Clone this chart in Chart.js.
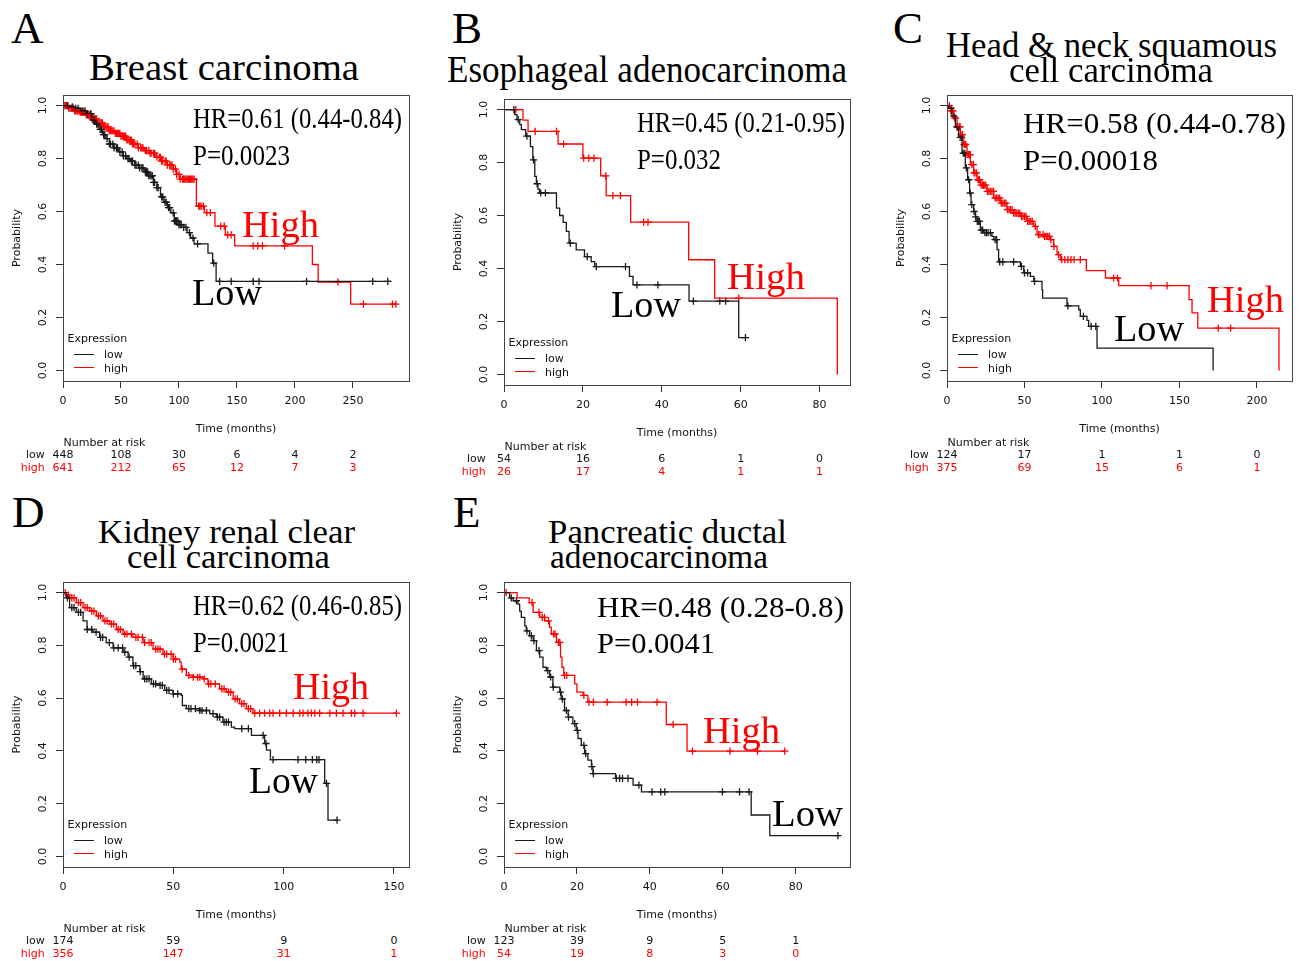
<!DOCTYPE html>
<html><head><meta charset="utf-8">
<script src="https://cdn.jsdelivr.net/npm/chart.js@4.4.1/dist/chart.umd.min.js"></script>
<style>
html,body{margin:0;padding:0;background:#fff;}
body{width:1302px;height:961px;position:relative;overflow:hidden;}
canvas{position:absolute;}
.t{position:absolute;white-space:nowrap;line-height:1;transform-origin:0 0;}
.ln{position:absolute;height:1px;}
</style></head><body>
<script>
// ---------- shared ----------
const yTicks=[0,0.2,0.4,0.6,0.8,1.0];
const yTickLabels=['0.0','0.2','0.4','0.6','0.8','1.0'];
const groupLabels=['low','high'];

// ---------- A: Breast carcinoma ----------
const aTitle=['Breast carcinoma'];
const aHR='HR=0.61 (0.44-0.84)', aP='P=0.0023';
const aTicks=[0,50,100,150,200,250];
const aRiskLow=[448,108,30,6,4,2];
const aRiskHigh=[641,212,65,12,7,3];
const aLowT=[0,5,10,15,20,25,28,31,34,37,40,44,48,52,55,58,62,66,70,74,78,81,84,87,90,93,96,100,104,107,110,113,125,129,132,283];
const aLowS=[1,0.995,0.99,0.98,0.97,0.945,0.93,0.91,0.89,0.875,0.855,0.84,0.825,0.81,0.80,0.79,0.775,0.765,0.75,0.735,0.71,0.69,0.655,0.635,0.615,0.595,0.565,0.55,0.54,0.52,0.50,0.478,0.443,0.405,0.336,0.336];
const aLowC=[4,8,11,13,17,19,21,24,26,27,29,30,32,33,35,36,38,40,41,43,44,46,47,49,51,52,54,56,57,59,60,62,63,65,66,68,69,71,72,73,74,75,76,77,78,79,81,82,85,86,88,89,91,92,95,96,97,98,99,100,101,102,104,106,109,112,116,130,135,145,164,169,210,267,280];
const aHighT=[0,5,10,15,20,25,30,35,40,45,50,55,60,65,70,75,80,85,90,95,98,101,115,122,131,140,148,215,220,248,288];
const aHighS=[1,0.99,0.98,0.975,0.965,0.95,0.935,0.92,0.905,0.895,0.885,0.87,0.855,0.84,0.83,0.82,0.805,0.79,0.775,0.76,0.74,0.722,0.62,0.596,0.545,0.512,0.47,0.40,0.333,0.25,0.25];
const aHighC=[1,2,3,4,5,6,7,8,9,10,11,12,13,14,15,16,17,18,19,20,21,22,23,24,25,26,27,28,29,30,31,32,33,34,35,36,37,38,39,40,41,42,43,44,45,46,47,48,49,50,51,52,53,54,55,56,57,58,59,60,61,62,64,65,67,68,69,71,72,74,75,76,78,79,81,83,84,85,86,88,89,90,92,93,94,95,97,98,100,101,103,104,105,106,107,108,109,110,111,112,113,117,118,119,121,124,127,136,139,142,145,164,168,172,191,237,259,284,287];

// ---------- B: Esophageal adenocarcinoma ----------
const bTitle=['Esophageal adenocarcinoma'];
const bHR='HR=0.45 (0.21-0.95)', bP='P=0.032';
const bTicks=[0,20,40,60,80];
const bRiskLow=[54,16,6,1,0];
const bRiskHigh=[26,17,4,1,1];
const bLowT=[0,2.7,3.3,4.0,4.4,5.5,6.7,7.3,7.8,8.2,8.6,9.0,13.3,14.1,15.0,15.8,16.5,18.3,20.4,22.1,23.0,31.8,32.7,46.9,59.5,61.2];
const bLowS=[1,0.981,0.962,0.943,0.924,0.90,0.86,0.81,0.748,0.72,0.70,0.685,0.628,0.60,0.574,0.54,0.496,0.47,0.445,0.426,0.407,0.37,0.338,0.277,0.139,0.139];
const bLowC=[2.5,3.6,5.8,7.5,8.4,9.3,10.5,16.8,21.1,23.4,30.8,33.7,39,48,54.7,56.2,61.2];
const bHighT=[0,4.8,6.1,13.7,20,24.5,25.9,32.1,46.8,53.4,84.5];
const bHighS=[1,0.96,0.918,0.87,0.817,0.75,0.675,0.575,0.433,0.288,0];
const bHighC=[3,7.9,13.3,15.1,20.2,21.5,22.8,25.8,27.6,29.5,35.4,36.5,59.5];

// ---------- C: Head & neck squamous cell carcinoma ----------
const cTitle=['Head & neck squamous','cell carcinoma'];
const cHR='HR=0.58 (0.44-0.78)', cP='P=0.00018';
const cTicks=[0,50,100,150,200];
const cRiskLow=[124,17,1,1,0];
const cRiskHigh=[375,69,15,6,1];
const cLowT=[0,1.1,3.2,5.4,7.5,9.7,11.8,13.3,14.6,15.5,17.2,18.3,19.4,21.5,23.7,29,30.1,32.3,33.3,47.3,49.5,53.8,56,61.3,61.7,77.4,85,86,90.3,91.4,96.8,171.7];
const cLowS=[1,0.99,0.96,0.92,0.88,0.82,0.765,0.72,0.67,0.626,0.60,0.58,0.563,0.53,0.52,0.506,0.494,0.456,0.41,0.393,0.368,0.355,0.336,0.305,0.273,0.244,0.229,0.204,0.189,0.166,0.084,0];
const cLowC=[2.5,4.5,6.5,8.5,9.5,10.5,11.5,12.5,14,15,16,17.5,18.5,19.5,20.5,21,22,23,24.5,25.5,26.5,28,31,32,34,36,43,48,50,52,56.5,78,88,93,96];
const cHighT=[0,2.2,4.3,6.5,8.6,10.8,12.9,15.1,17.2,19.4,21.5,25.8,30.1,34.4,38.7,43,47.3,51.6,56,58.1,62.4,66.7,68.8,71,73.1,89.9,102.2,110.8,156.2,158.1,161.8,214.2];
const cHighS=[1,0.98,0.953,0.92,0.89,0.853,0.815,0.777,0.746,0.72,0.70,0.676,0.651,0.632,0.607,0.594,0.582,0.563,0.544,0.513,0.506,0.494,0.468,0.437,0.418,0.377,0.349,0.32,0.267,0.217,0.16,0];
const cHighC=[1.5,2.5,3,4,5,5.5,6.5,7,8,8.5,9,10,11,11.5,12,13,14,14.5,15,16,17,17.5,18,19,20,20.5,21,22,23,23.5,24,25,26,27,28,29,30,31,32,33,34,35,36,37,38,39,40,41,42,43,44,45,46,47,48,49,50,51,52,53,54,55,57,59,60,62,63,64,65,66,67,69,72,74,76,78,80,82,86,107.5,110,131.6,142,175,183];

// ---------- D: Kidney renal clear cell carcinoma ----------
const dTitle=['Kidney renal clear','cell carcinoma'];
const dHR='HR=0.62 (0.46-0.85)', dP='P=0.0021';
const dTicks=[0,50,100,150];
const dRiskLow=[174,59,9,0];
const dRiskHigh=[356,147,31,1];
const dLowT=[0,1.5,3,6,9.1,10.9,13.6,16.6,19.6,22.7,27.2,29.5,31.7,34.8,36.3,40,43.8,46.1,49.9,53.6,54.1,55.9,62,66.5,69.5,72.5,76.3,77.8,85.4,91.4,92.2,94,118.6,120.1,124.2];
const dLowS=[1,0.98,0.943,0.925,0.893,0.86,0.85,0.83,0.81,0.79,0.774,0.755,0.723,0.70,0.673,0.654,0.648,0.629,0.616,0.61,0.572,0.56,0.553,0.541,0.528,0.509,0.49,0.484,0.459,0.428,0.403,0.367,0.277,0.138,0.138];
const dLowC=[2,4,5,7,8,11,13,15,17,18,21,23,25,27,28,30,32,33,35,37,38,39,41,42,44,45,47,48,50,52,57,58,60,62,63,65,68,70,71,73,74,75,81,84,90.7,92,95.2,106.5,110,113,115,116,119.4,124.2];
const dHighT=[0,1.5,3,6,9.1,12.1,15.1,18.1,21.2,24.2,27.2,31.7,36.3,40.8,45.3,49.9,52.9,53.6,55.9,58.9,63.5,65.7,71,74,77.1,80,83.1,86.1,151.1];
const dHighS=[1,0.99,0.98,0.962,0.943,0.93,0.912,0.893,0.88,0.86,0.843,0.83,0.81,0.786,0.767,0.748,0.736,0.71,0.686,0.679,0.673,0.654,0.635,0.623,0.597,0.579,0.56,0.543,0.543];
const dHighC=[1,2.5,4,5,7,8,10,11,13,14,16,17,19,20,22,23,25,26,28,29,31,33,34,36,37,39,40,42,43,44,46,47,49,50,51,54,57,59,61,62,64,66,67,69,72,73,75,76,78,79,81,82,84,85,86.9,89.1,91.4,93.7,95.2,98.2,101.2,104.3,107.3,108.8,111,112.6,114.1,116.3,120.9,123.9,126.9,130.7,132.2,136,151.1];

// ---------- E: Pancreatic ductal adenocarcinoma ----------
const eTitle=['Pancreatic ductal','adenocarcinoma'];
const eHR='HR=0.48 (0.28-0.8)', eP='P=0.0041';
const eTicks=[0,20,40,60,80];
const eRiskLow=[123,39,9,5,1];
const eRiskHigh=[54,19,8,3,0];
const eLowT=[0,1.55,2.5,3.8,4.3,4.75,5.7,6.1,7.0,8.0,8.9,9.8,10.7,11.6,12.5,13.4,15.3,15.7,16.6,17.6,18.9,19.8,20.3,21.2,22.1,23,24,24.4,30.6,35.4,37.7,67.8,72.9,91.9];
const eLowS=[1,0.98,0.969,0.956,0.93,0.906,0.874,0.855,0.836,0.818,0.78,0.755,0.717,0.704,0.68,0.642,0.623,0.597,0.553,0.528,0.503,0.478,0.447,0.421,0.39,0.365,0.34,0.314,0.296,0.27,0.245,0.157,0.079,0.079];
const eLowC=[2,3.4,6.3,7.5,8.2,9.6,12,12.8,13.5,15.5,16,17.1,17.7,19.4,20.1,21.9,22.4,24.1,24.5,30.8,31.7,32.5,34,37,40.6,43,44.1,59.9,64.6,67.2,91.6];
const eHighT=[0,3.6,6.9,8,9.8,11.2,12.5,13,14.4,15.5,15.9,16.4,19.4,20,21.7,23,44.5,50.2,77];
const eHighS=[1,0.98,0.962,0.925,0.906,0.893,0.868,0.843,0.811,0.755,0.717,0.686,0.654,0.623,0.61,0.585,0.5,0.399,0.399];
const eHighC=[0.6,7.7,9.6,10.5,11.1,12.2,13.6,14,14.9,15.3,16.6,17.2,21.9,23.3,24.5,28.3,33.5,35,36.6,42,46.4,51.7,62,69.5,77];

// ---------- layout (positions only) ----------
const panels=[
 {letter:'A',lx:11,lb:43,box:[63,95,409,381],xmax:298.3,ticks:aTicks,lowT:aLowT,lowS:aLowS,lowC:aLowC,highT:aHighT,highS:aHighS,highC:aHighC,riskLow:aRiskLow,riskHigh:aRiskHigh,
  title:[[aTitle[0],89,359,80,37]],hr:[aHR,193,402,128],p:[aP,193,290,165],hi:[242,319,237],lo:[192,262,305]},
 {letter:'B',lx:452,lb:43,box:[504,99,850,385],xmax:87.7,ticks:bTicks,lowT:bLowT,lowS:bLowS,lowC:bLowC,highT:bHighT,highS:bHighS,highC:bHighC,riskLow:bRiskLow,riskHigh:bRiskHigh,
  title:[[bTitle[0],447,847,82,37]],hr:[bHR,637,845,132],p:[bP,637,721,169],hi:[727,805,289],lo:[611,681,317]},
 {letter:'C',lx:893,lb:43,box:[947,95,1292,381],xmax:222.6,ticks:cTicks,lowT:cLowT,lowS:cLowS,lowC:cLowC,highT:cHighT,highS:cHighS,highC:cHighC,riskLow:cRiskLow,riskHigh:cRiskHigh,
  title:[[cTitle[0],946,1277,57,36],[cTitle[1],1009,1213,82,36]],hr:[cHR,1023,1286,133],p:[cP,1023,1158,170],hi:[1207,1284,312],lo:[1114,1184,341]},
 {letter:'D',lx:12,lb:527,box:[63,582,409,867],xmax:156.8,ticks:dTicks,lowT:dLowT,lowS:dLowS,lowC:dLowC,highT:dHighT,highS:dHighS,highC:dHighC,riskLow:dRiskLow,riskHigh:dRiskHigh,
  title:[[dTitle[0],98,355,543,34],[dTitle[1],127,330,568,34]],hr:[dHR,193,402,615],p:[dP,193,289,652],hi:[293,369,699],lo:[249,318,793]},
 {letter:'E',lx:453,lb:527,box:[504,582,850,867],xmax:94.9,ticks:eTicks,lowT:eLowT,lowS:eLowS,lowC:eLowC,highT:eHighT,highS:eHighS,highC:eHighC,riskLow:eRiskLow,riskHigh:eRiskHigh,
  title:[[eTitle[0],548,787,543,34],[eTitle[1],550,768,568,34]],hr:[eHR,597,844,617],p:[eP,597,715,653],hi:[703,780,743],lo:[772,843,826]}
];

const SERIF='"Liberation Serif","Times New Roman",serif';
const SANS='"DejaVu Sans",sans-serif';
const TXT='#111', RED='#ff0000', BLK='#1a1a1a';

Chart.defaults.font.family=SANS;
Chart.defaults.font.size=11;
Chart.defaults.color=TXT;

function addText(txt,opt){
  const d=document.createElement('div');
  d.className='t';
  d.style.font=opt.font;
  d.style.color=opt.color||'#000';
  d.appendChild(document.createTextNode(txt));
  const m=document.createElement('span');
  m.style.cssText='display:inline-block;width:0;height:0;vertical-align:baseline';
  d.appendChild(m);
  document.body.appendChild(d);
  const bo=m.offsetTop;
  const w=d.getBoundingClientRect().width;
  let sx=1;
  if(opt.width) sx=opt.width/w;
  let left=opt.x;
  if(opt.align==='center') left=opt.x-w*sx/2;
  if(opt.align==='right') left=opt.x-w*sx;
  d.style.left=left+'px';
  d.style.top=(opt.base-bo)+'px';
  if(sx!==1) d.style.transform='scaleX('+sx+')';
  return d;
}
function addLine(x1,x2,y,color){
  const d=document.createElement('div');
  d.className='ln';
  d.style.left=x1+'px';d.style.top=Math.round(y-0.5)+'px';d.style.width=(x2-x1)+'px';
  d.style.background=color;
  document.body.appendChild(d);
}
function survAt(T,S,t){
  let v=S[0];
  for(let i=0;i<T.length;i++){ if(T[i]<=t) v=S[i]; else break; }
  return v;
}

const boxPlugin={id:'box',afterDatasetsDraw(c){
  const a=c.chartArea,ctx=c.ctx;
  ctx.save();ctx.strokeStyle='#444';ctx.lineWidth=1;
  ctx.strokeRect(Math.round(a.left)+0.5,Math.round(a.top)+0.5,Math.round(a.right-a.left),Math.round(a.bottom-a.top));
  ctx.restore();
}};
const yLabelPlugin={id:'ylab',afterDraw(c){
  const s=c.scales.y,ctx=c.ctx;
  ctx.save();ctx.font='11px '+SANS;ctx.fillStyle=TXT;ctx.textAlign='center';ctx.textBaseline='middle';
  for(let i=0;i<yTicks.length;i++){
    const y=s.getPixelForValue(yTicks[i]);
    ctx.save();ctx.translate(c.chartArea.left-19.5,y);ctx.rotate(-Math.PI/2);
    ctx.fillText(yTickLabels[i],0,0);ctx.restore();
  }
  ctx.restore();
}};

function makePanel(p){
  const [L,T,R,B]=p.box;
  const padL=60,padT=6,padR=6,bottomH=56;
  const w=(R-L)+padL+padR,h=(B-T)+padT+bottomH;
  const cx0=L-padL,cy0=T-padT;
  const cv=document.createElement('canvas');
  cv.width=w;cv.height=h;cv.style.width=w+'px';cv.style.height=h+'px';
  cv.style.left=cx0+'px';cv.style.top=cy0+'px';
  document.body.appendChild(cv);
  const line=(Tt,Ss,color)=>({data:Tt.map((t,i)=>({x:t,y:Ss[i]})),stepped:true,borderColor:color,borderWidth:1.3,pointRadius:0,fill:false,tension:0});
  const cens=(C,Tt,Ss,color)=>({data:C.map(t=>({x:t,y:survAt(Tt,Ss,t)})),showLine:false,pointStyle:'cross',pointRadius:3.6,pointBorderWidth:1.3,pointBorderColor:color,pointBackgroundColor:color,borderColor:color});
  const chart=new Chart(cv,{type:'line',
    data:{datasets:[line(p.lowT,p.lowS,BLK),line(p.highT,p.highS,RED),cens(p.lowC,p.lowT,p.lowS,BLK),cens(p.highC,p.highT,p.highS,RED)]},
    options:{responsive:false,animation:false,events:[],
      layout:{padding:{top:padT,right:padR,left:0,bottom:0}},
      plugins:{legend:{display:false},tooltip:{enabled:false}},
      scales:{
        x:{type:'linear',min:0,max:p.xmax,
          afterBuildTicks:s=>{s.ticks=p.ticks.map(v=>({value:v}));},
          afterFit:s=>{s.height=bottomH;},
          grid:{drawOnChartArea:false,drawTicks:true,tickLength:7,tickColor:'#333',color:'#333'},
          border:{display:false},
          ticks:{padding:6.4,color:TXT,maxRotation:0,autoSkip:false,callback:v=>String(v)},
          title:{display:true,text:'Time (months)',color:TXT,padding:{top:0,bottom:1.4}}},
        y:{type:'linear',min:-0.04,max:1.04,
          afterBuildTicks:s=>{s.ticks=yTicks.map(v=>({value:v}));},
          afterFit:s=>{s.width=padL;},
          grid:{drawOnChartArea:false,drawTicks:true,tickLength:7,tickColor:'#333',color:'#333'},
          border:{display:false},
          ticks:{display:false},
          title:{display:true,text:'Probability',color:TXT,padding:{top:8,bottom:0}}}
      }},
    plugins:[boxPlugin,yLabelPlugin]});

  // big texts
  addText(p.letter,{x:p.lx,base:p.lb,font:'45px '+SERIF,color:'#000'});
  p.title.forEach(tl=>addText(tl[0],{x:tl[1],width:tl[2]-tl[1],base:tl[3],font:tl[4]+'px '+SERIF,color:'#000'}));
  addText(p.hr[0],{x:p.hr[1],width:p.hr[2]-p.hr[1],base:p.hr[3],font:'30px '+SERIF,color:'#000'});
  addText(p.p[0],{x:p.p[1],width:p.p[2]-p.p[1],base:p.p[3],font:'30px '+SERIF,color:'#000'});
  addText('High',{x:p.hi[0],width:p.hi[1]-p.hi[0],base:p.hi[2],font:'38px '+SERIF,color:RED});
  addText('Low',{x:p.lo[0],width:p.lo[1]-p.lo[0],base:p.lo[2],font:'38px '+SERIF,color:'#000'});

  // in-plot legend
  const y0=cy0+chart.scales.y.getPixelForValue(0);
  const sm='11px '+SANS;
  addText('Expression',{x:L+4.5,base:y0-32.5+4,font:sm,color:TXT});
  addLine(L+11,L+31,y0-16,BLK);
  addText(groupLabels[0],{x:L+41,base:y0-16+4,font:sm,color:TXT});
  addLine(L+11,L+31,y0-2.5,RED);
  addText(groupLabels[1],{x:L+41,base:y0-2.5+4,font:sm,color:TXT});

  // number at risk table
  addText('Number at risk',{x:L+0.5,base:B+61+4,font:sm,color:TXT});
  addText(groupLabels[0],{x:L-18.3,align:'right',base:B+73.3+4,font:sm,color:TXT});
  addText(groupLabels[1],{x:L-18.3,align:'right',base:B+86+4,font:sm,color:RED});
  p.ticks.forEach((t,i)=>{
    const x=cx0+chart.scales.x.getPixelForValue(t);
    addText(String(p.riskLow[i]),{x:x,align:'center',base:B+73.3+4,font:sm,color:TXT});
    addText(String(p.riskHigh[i]),{x:x,align:'center',base:B+86+4,font:sm,color:RED});
  });
}
panels.forEach(makePanel);
</script>
</body></html>
